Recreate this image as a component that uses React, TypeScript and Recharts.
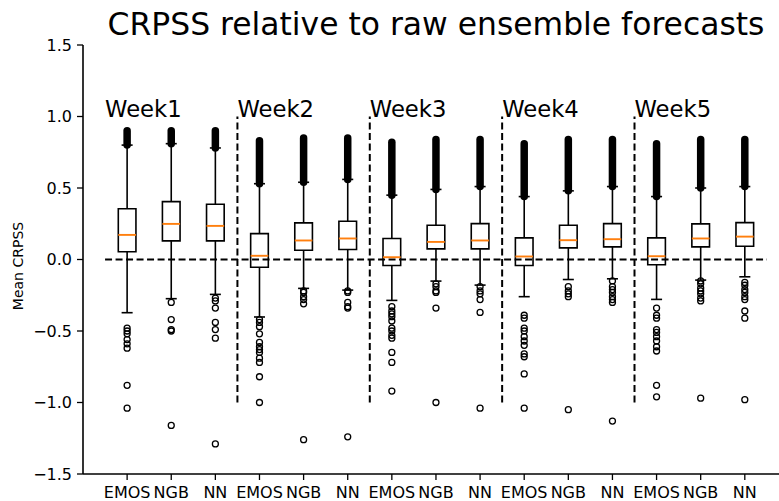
import { ComposedChart, XAxis, YAxis, Scatter, ReferenceLine, ReferenceArea } from "recharts";

const weeks = ["Week1", "Week2", "Week3", "Week4", "Week5"];
const models = ["EMOS", "NGB", "NN"];

// one entry per box, ordered week by week: EMOS, NGB, NN
const q1 = [0.054, 0.13, 0.13, -0.054, 0.065, 0.07, -0.042, 0.074, 0.074, -0.042, 0.081, 0.088, -0.037, 0.088, 0.093];
const median = [0.172, 0.249, 0.235, 0.026, 0.133, 0.147, 0.016, 0.123, 0.133, 0.021, 0.135, 0.142, 0.023, 0.147, 0.16];
const q3 = [0.355, 0.405, 0.386, 0.181, 0.256, 0.267, 0.147, 0.24, 0.251, 0.151, 0.24, 0.251, 0.151, 0.249, 0.258];
const whiskerLow = [-0.372, -0.274, -0.244, -0.402, -0.202, -0.214, -0.286, -0.151, -0.179, -0.26, -0.14, -0.135, -0.279, -0.144, -0.121];
const whiskerHigh = [0.8, 0.81, 0.78, 0.53, 0.54, 0.56, 0.45, 0.49, 0.51, 0.44, 0.48, 0.51, 0.44, 0.5, 0.51];
// upper fliers are so dense they merge into a solid column up to this value
const highFlierMax = [0.9, 0.9, 0.9, 0.83, 0.85, 0.85, 0.82, 0.84, 0.84, 0.81, 0.84, 0.84, 0.81, 0.84, 0.84];
const lowFliers = [
  [-0.48, -0.5, -0.52, -0.56, -0.59, -0.62, -0.88, -1.04],
  [-0.3, -0.42, -0.49, -0.5, -1.16],
  [-0.27, -0.29, -0.34, -0.44, -0.49, -0.55, -1.29],
  [-0.42, -0.44, -0.47, -0.52, -0.58, -0.61, -0.63, -0.65, -0.69, -0.72, -0.82, -1.0],
  [-0.22, -0.23, -0.26, -0.28, -0.31, -1.26],
  [-0.22, -0.23, -0.3, -0.33, -0.34, -1.24],
  [-0.33, -0.36, -0.38, -0.4, -0.43, -0.48, -0.5, -0.53, -0.55, -0.65, -0.72, -0.92],
  [-0.17, -0.19, -0.22, -0.23, -0.34, -1.0],
  [-0.19, -0.22, -0.24, -0.28, -0.37, -1.04],
  [-0.39, -0.41, -0.48, -0.5, -0.54, -0.57, -0.6, -0.66, -0.68, -0.8, -1.04],
  [-0.19, -0.22, -0.24, -0.26, -1.05],
  [-0.15, -0.19, -0.21, -0.23, -0.26, -0.28, -0.3, -1.13],
  [-0.34, -0.39, -0.41, -0.49, -0.51, -0.54, -0.57, -0.61, -0.64, -0.88, -0.96],
  [-0.15, -0.17, -0.2, -0.22, -0.24, -0.27, -0.29, -0.97],
  [-0.16, -0.18, -0.21, -0.23, -0.26, -0.28, -0.36, -0.41, -0.98],
];
const yTicks = [-1.5, -1.0, -0.5, 0.0, 0.5, 1.0, 1.5];

const FONT = "DejaVu Sans";
const ORANGE = "#ff7f0e";
const HALF_BOX = 0.2;
const HALF_CAP = 0.125;

const positions = q1.map((_, i) => i + 1);
const tickNames = positions.map((_, i) => models[i % models.length]);
const flierData = lowFliers.flatMap((list, i) => list.map((y) => ({ x: i + 1, y })));
const weekLabelData = weeks.map((w, i) => ({ x: 0.5 + i * models.length, y: 1.0, label: w }));
const dividers = weeks.slice(1).map((_, i) => 0.5 + (i + 1) * models.length);

const fmtY = (v: number) => v.toFixed(1).replace("-", "\u2212");

const FlierDot = (props: any) => (
  <circle cx={props.cx} cy={props.cy} r={3} fill="none" stroke="#000" strokeWidth={1.3} />
);

const WeekText = (props: any) => (
  <text x={props.cx} y={props.cy} fontSize={22.7} fontFamily={FONT} fill="#000">
    {props.payload.label}
  </text>
);

export default function App() {
  const line = { stroke: "#000", strokeWidth: 1.6 };

  return (
    <div style={{ position: "absolute", left: 0, top: 0, width: 779, height: 501, background: "#fff" }}>
      <svg width={779} height={501} style={{ position: "absolute", left: 0, top: 0 }}>
        <text x={436} y={35} textAnchor="middle" fontSize={31.4} fontFamily={FONT} fill="#000">
          CRPSS relative to raw ensemble forecasts
        </text>
        <text
          x={0}
          y={0}
          transform="translate(23, 266) rotate(-90)"
          textAnchor="middle"
          fontSize={14}
          fontFamily={FONT}
          fill="#000"
        >
          Mean CRPSS
        </text>
      </svg>
      <ComposedChart
        width={779}
        height={501}
        margin={{ top: 45, right: 0, bottom: 0, left: 0 }}
        style={{ position: "absolute", left: 0, top: 0 }}
      >
        <XAxis
          type="number"
          dataKey="x"
          domain={[0, 15.775]}
          allowDataOverflow
          ticks={positions}
          interval={0}
          tickFormatter={(v: number) => tickNames[v - 1] ?? ""}
          height={27}
          tickSize={6}
          tickMargin={7}
          axisLine={{ stroke: "#000", strokeWidth: 1.6 }}
          tickLine={{ stroke: "#000", strokeWidth: 1.3 }}
          tick={{ fill: "#000", fontSize: 16, fontFamily: FONT }}
        />
        <YAxis
          type="number"
          dataKey="y"
          domain={[-1.5, 1.5]}
          allowDataOverflow
          ticks={yTicks}
          interval={0}
          tickFormatter={fmtY}
          width={83}
          tickSize={6}
          tickMargin={5}
          axisLine={{ stroke: "#000", strokeWidth: 1.6 }}
          tickLine={{ stroke: "#000", strokeWidth: 1.3 }}
          tick={{ fill: "#000", fontSize: 16, fontFamily: FONT }}
        />

        <ReferenceLine
          segment={[{ x: 0.5, y: 0 }, { x: positions.length + 0.5, y: 0 }]}
          stroke="#000"
          strokeWidth={2}
          strokeDasharray="7 3.5"
        />
        {dividers.map((d) => (
          <ReferenceLine
            key={"div" + d}
            segment={[{ x: d, y: -1 }, { x: d, y: 1 }]}
            stroke="#000"
            strokeWidth={2}
            strokeDasharray="7 3.5"
          />
        ))}

        {positions.map((p, i) => (
          <ReferenceLine key={"wl" + p} segment={[{ x: p, y: whiskerLow[i] }, { x: p, y: q1[i] }]} {...line} />
        ))}
        {positions.map((p, i) => (
          <ReferenceLine key={"wh" + p} segment={[{ x: p, y: q3[i] }, { x: p, y: whiskerHigh[i] }]} {...line} />
        ))}
        {positions.map((p, i) => (
          <ReferenceLine
            key={"cl" + p}
            segment={[{ x: p - HALF_CAP, y: whiskerLow[i] }, { x: p + HALF_CAP, y: whiskerLow[i] }]}
            {...line}
          />
        ))}
        {positions.map((p, i) => (
          <ReferenceLine
            key={"ch" + p}
            segment={[{ x: p - HALF_CAP, y: whiskerHigh[i] }, { x: p + HALF_CAP, y: whiskerHigh[i] }]}
            {...line}
          />
        ))}
        {positions.map((p, i) => (
          <ReferenceArea
            key={"box" + p}
            x1={p - HALF_BOX}
            x2={p + HALF_BOX}
            y1={q1[i]}
            y2={q3[i]}
            fill="none"
            fillOpacity={0}
            stroke="#000"
            strokeWidth={1.6}
          />
        ))}
        {positions.map((p, i) => (
          <ReferenceLine
            key={"med" + p}
            segment={[{ x: p - HALF_BOX, y: median[i] }, { x: p + HALF_BOX, y: median[i] }]}
            stroke={ORANGE}
            strokeWidth={1.9}
          />
        ))}
        {positions.map((p, i) => (
          <ReferenceLine
            key={"hf" + p}
            segment={[{ x: p, y: whiskerHigh[i] }, { x: p, y: highFlierMax[i] }]}
            stroke="#000"
            strokeWidth={7.5}
            strokeLinecap="round"
          />
        ))}

        <Scatter data={flierData} dataKey="y" shape={FlierDot} isAnimationActive={false} />
        <Scatter data={weekLabelData} dataKey="y" shape={WeekText} isAnimationActive={false} />
      </ComposedChart>
    </div>
  );
}
